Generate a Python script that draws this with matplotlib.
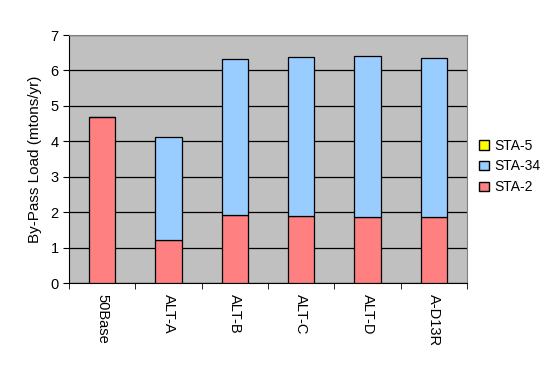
import matplotlib
matplotlib.use("Agg")
import matplotlib.pyplot as plt
import numpy as np
from matplotlib.patches import Patch

categories = ["50Base", "ALT-A", "ALT-B", "ALT-C", "ALT-D", "A-D13R"]
sta2 = [4.68, 1.21, 1.92, 1.89, 1.86, 1.86]
sta34 = [0.0, 2.91, 4.40, 4.49, 4.55, 4.49]
sta5 = [0.0, 0.0, 0.0, 0.0, 0.0, 0.0]
yticks = [0, 1, 2, 3, 4, 5, 6, 7]

plt.rcParams['font.family'] = ['Liberation Sans', 'DejaVu Sans']

fig = plt.figure(figsize=(5.49, 3.76), dpi=100)
ax = fig.add_axes([0.1257, 0.2473, 0.8506 - 0.1257, 0.9069 - 0.2473])
ax.set_facecolor('#c0c0c0')

x = np.arange(len(categories))
w = 0.4
ax.bar(x, sta2, w, color='#ff8080', edgecolor='black', linewidth=0.9, label='STA-2', zorder=3)
ax.bar(x, sta34, w, bottom=sta2, color='#99ccff', edgecolor='black', linewidth=0.9, label='STA-34', zorder=3)
bottom5 = np.array(sta2) + np.array(sta34)
ax.bar(x, sta5, w, bottom=bottom5, color='#ffff00', edgecolor='black', linewidth=0.0, label='STA-5', zorder=3)

ax.set_xlim(-0.5, len(categories) - 0.5)
ax.set_ylim(0, 7)
ax.set_yticks(yticks)
ax.set_yticklabels([str(t) for t in yticks], fontsize=10.5)
ax.yaxis.grid(True, color='black', linewidth=0.9, zorder=1)
ax.set_axisbelow(True)

ax.set_xticks(x)
ax.set_xticklabels(categories, rotation=-90, fontsize=10.5, va='top', ha='center')
ax.tick_params(axis='x', which='major', length=0, pad=8)
ax.set_xticks(np.arange(-0.5, len(categories), 1.0), minor=True)
ax.tick_params(axis='x', which='minor', length=4, direction='out', color='black')
ax.tick_params(axis='y', length=4, direction='out', color='black')

for s in ['top', 'right']:
    ax.spines[s].set_color('#808080')
for s in ['left', 'bottom']:
    ax.spines[s].set_color('black')

ax.set_ylabel('By-Pass Load (mtons/yr)', fontsize=11, labelpad=6)

handles = [Patch(facecolor='#ffff00', edgecolor='black', label='STA-5'),
           Patch(facecolor='#99ccff', edgecolor='black', label='STA-34'),
           Patch(facecolor='#ff8080', edgecolor='black', label='STA-2')]
ax.legend(handles=handles, loc='center left', bbox_to_anchor=(1.0, 0.47), frameon=False,
          fontsize=10, handlelength=0.7, handleheight=0.7, handletextpad=0.4, labelspacing=0.5)

fig.savefig('out.png', dpi=100)
